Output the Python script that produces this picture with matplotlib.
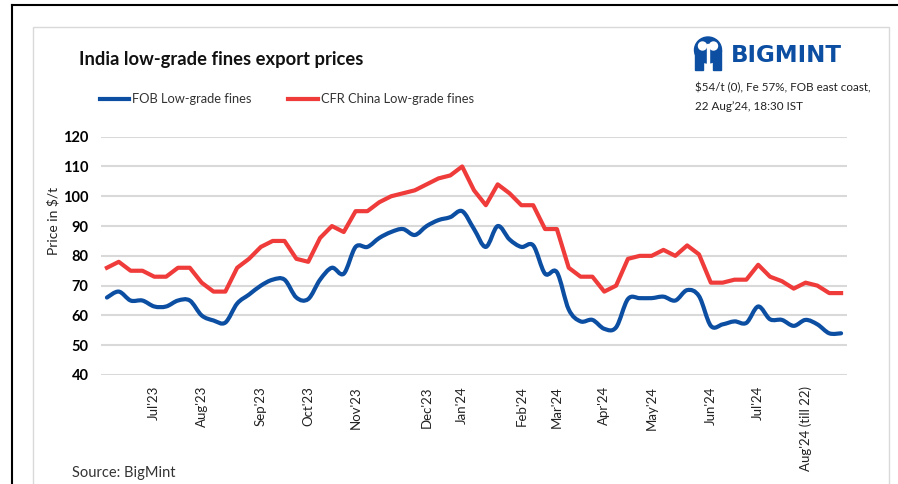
import numpy as np
import matplotlib.pyplot as plt
from matplotlib.path import Path
from matplotlib.patches import PathPatch, Rectangle, Ellipse, Circle

plt.rcParams['font.family'] = ['Lato', 'DejaVu Sans']

# weekly prices, $/t
fob = [66, 68, 65, 65, 63, 63, 65, 65, 60, 58.3, 57.6, 64, 67, 70, 72, 72, 66, 65.5,
       72, 76, 74, 83, 83, 86, 88, 89, 87, 90, 92, 93, 95, 89, 83, 90, 85.5, 83, 83.5,
       74, 74.5, 62, 58, 58.5, 55.5, 56, 65.5, 65.8, 65.8, 66.3, 65, 68.5, 66.5, 56.5,
       57, 58, 57.5, 63, 58.7, 58.5, 56.5, 58.5, 57, 54, 54]
cfr = [76, 78, 75, 75, 73, 73, 76, 76, 71, 68, 68, 76, 79, 83, 85, 85, 79, 78,
       86, 90, 88, 95, 95, 98, 100, 101, 102, 104, 106, 107, 110, 102, 97, 104, 101, 97, 97,
       89, 89, 76, 73, 73, 68, 70, 79, 80, 80, 82, 80, 83.5, 80.5, 71,
       71, 72, 72, 77, 73, 71.5, 69, 71, 70, 67.5, 67.5]

series_names = ["FOB Low-grade fines", "CFR China Low-grade fines"]
tick_pos = [4, 8, 13, 17, 21, 27, 30, 35, 38, 42, 46, 51, 55, 59]
tick_labels = ["Jul'23", "Aug'23", "Sep'23", "Oct'23", "Nov'23", "Dec'23", "Jan'24",
               "Feb'24", "Mar'24", "Apr'24", "May'24", "Jun'24", "Jul'24", "Aug'24 (till 22)"]
yticks = [40, 50, 60, 70, 80, 90, 100, 110, 120]

BLUE = '#0b4ea2'
RED = '#ef3b3a'
GRID = '#d9d9d9'
W, H = 898, 484


def smooth_path(x, y):
    # Excel-like smoothed line: cubic bezier segments through each point
    x = np.asarray(x, float)
    y = np.asarray(y, float)
    xp = np.concatenate([[x[0]], x, [x[-1]]])
    yp = np.concatenate([[y[0]], y, [y[-1]]])
    verts = [(x[0], y[0])]
    codes = [Path.MOVETO]
    for i in range(len(x) - 1):
        c1 = (x[i] + (xp[i + 2] - xp[i]) / 6, y[i] + (yp[i + 2] - yp[i]) / 6)
        c2 = (x[i + 1] - (xp[i + 3] - xp[i + 1]) / 6, y[i + 1] - (yp[i + 3] - yp[i + 1]) / 6)
        verts += [c1, c2, (x[i + 1], y[i + 1])]
        codes += [Path.CURVE4] * 3
    return Path(verts, codes)


fig = plt.figure(figsize=(W / 100, H / 100), dpi=100)

# overlay in pixel units for frame, titles, legend and logo
deco = fig.add_axes([0, 0, 1, 1])
deco.set_xlim(0, W)
deco.set_ylim(H, 0)
deco.axis('off')

deco.plot([12, W], [5, 5], color='black', lw=1.5)
deco.plot([12, 12], [5, H], color='black', lw=1.5)
deco.add_patch(Rectangle((33, 27), 889 - 33, H, fill=False, edgecolor=GRID, lw=1))

deco.text(79, 60, "India low-grade fines export prices", fontsize=13.2, fontweight='bold',
          va='center', ha='left', color='#111111')

deco.plot([100, 129], [99, 99], color=BLUE, lw=3)
deco.text(132, 99, series_names[0], fontsize=9.3, va='center', color='#333333')
deco.plot([288, 318], [99, 99], color=RED, lw=3)
deco.text(321, 99, series_names[1], fontsize=9.3, va='center', color='#333333')

deco.text(695, 88, "$54/t (0), Fe 57%, FOB east coast,", fontsize=8.4, va='center', color='#222222')
deco.text(695, 106, "22 Aug\u201924, 18:30 IST", fontsize=8.4, va='center', color='#222222')

# logo
deco.add_patch(Ellipse((708, 50), 27, 26, color=BLUE))
deco.add_patch(Rectangle((695, 50), 8, 20, color=BLUE))
deco.add_patch(Rectangle((713, 50), 8, 20, color=BLUE))
deco.add_patch(Circle((702.5, 46), 4, color='white'))
deco.add_patch(Circle((713.5, 46), 4, color='white'))
deco.add_patch(Rectangle((707, 44), 2, 30, color='white'))
deco.text(731, 55, "BIGMINT", fontsize=16.5, fontweight='bold', family='DejaVu Sans',
          va='center', ha='left', color=BLUE)

deco.text(53, 221, "Price in $/t", fontsize=10, rotation=90, va='center', ha='center', color='#222222')
deco.text(72, 473, "Source: BigMint", fontsize=10.5, va='center', color='#333333')

# main chart
ax = fig.add_axes([101 / W, 1 - 375 / H, (847 - 101) / W, (375 - 136.7) / H])
ax.patch.set_visible(False)
x = np.arange(len(fob))
ax.plot(x, cfr, color=RED, lw=3, solid_joinstyle='round')
ax.add_patch(PathPatch(smooth_path(x, fob), fill=False, edgecolor=BLUE, lw=3,
                       capstyle='round', joinstyle='round'))
ax.set_xlim(-0.5, len(fob) - 0.5)
ax.set_ylim(40, 120)
ax.set_yticks(yticks)
ax.set_yticklabels([str(v) for v in yticks], fontweight='bold', fontsize=10.5)
ax.set_xticks(tick_pos)
ax.set_xticklabels(tick_labels, rotation=90, fontsize=9.5, color='#222222')
ax.yaxis.grid(True, color=GRID, lw=1.5)
ax.set_axisbelow(True)
for s in ax.spines.values():
    s.set_visible(False)
ax.tick_params(axis='both', length=0)
ax.tick_params(axis='y', pad=9)
ax.tick_params(axis='x', pad=8)

fig.savefig('out.png', dpi=100)
